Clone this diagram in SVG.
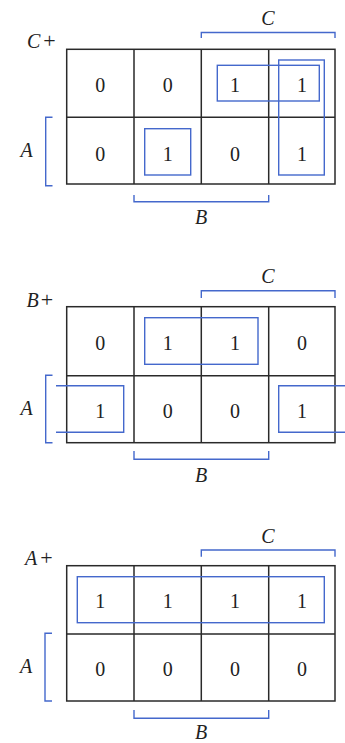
<svg xmlns="http://www.w3.org/2000/svg" width="345" height="743" viewBox="0 0 345 743">
<style>
.g{fill:none;stroke:#2a2a2a;stroke-width:1.5}
.b{fill:none;stroke:#4468cc;stroke-width:1.4}
.d{font-family:"Liberation Serif","Times New Roman",serif;font-size:20px;fill:#222;text-anchor:middle}
.l{font-family:"Liberation Serif","Times New Roman",serif;font-size:20px;fill:#222;font-style:italic}
.c{text-anchor:middle}
.p{font-style:normal;font-size:22px}
</style>
<rect width="345" height="743" fill="#fff"/>

<g id="map-c">
<g class="grid">
<rect class="g" x="66.7" y="49.3" width="268.3" height="134.7"/>
<path class="g" d="M66.7 117.3H335M134 49.3V184M201.3 49.3V184M268.7 49.3V184"/>
</g>
<text class="l" x="27" y="48">C<tspan class="p" dx="3">+</tspan></text>
<text class="d" x="100.3" y="91.5">0</text>
<text class="d" x="167.7" y="91.5">0</text>
<text class="d" x="235" y="91.5">1</text>
<text class="d" x="302" y="91.5">1</text>
<text class="d" x="100.3" y="160.5">0</text>
<text class="d" x="167.7" y="160.5">1</text>
<text class="d" x="235" y="160.5">0</text>
<text class="d" x="302" y="160.5">1</text>
<path class="b" d="M201.3 38V32.5H335V38"/>
<text class="l c" x="268" y="25">C</text>
<path class="b" d="M52.5 117.3H45.7V185.7H52.5"/>
<text class="l" x="20.5" y="157">A</text>
<path class="b" d="M134 195V201.7H268.7V195"/>
<text class="l c" x="201" y="224">B</text>
<rect class="b" x="217.3" y="65.3" width="102" height="35.7"/>
<rect class="b" x="278.7" y="60" width="45.6" height="115"/>
<rect class="b" x="144.7" y="128.7" width="46" height="46.3"/>
</g>

<g id="map-b">
<rect class="g" x="66.7" y="306.7" width="268.3" height="136"/>
<path class="g" d="M66.7 375.7H335M134 306.7V442.7M201.3 306.7V442.7M268.7 306.7V442.7"/>
<text class="l" x="26.5" y="306.5">B<tspan class="p" dx="2">+</tspan></text>
<text class="d" x="100.3" y="350">0</text>
<text class="d" x="167.7" y="350">1</text>
<text class="d" x="235" y="350">1</text>
<text class="d" x="302" y="350">0</text>
<text class="d" x="100.3" y="418">1</text>
<text class="d" x="167.7" y="418">0</text>
<text class="d" x="235" y="418">0</text>
<text class="d" x="302" y="418">1</text>
<path class="b" d="M201.3 298V290.7H335V298"/>
<text class="l c" x="268" y="283">C</text>
<path class="b" d="M52.5 375.3H45.7V442.7H52.5"/>
<text class="l" x="20.5" y="415">A</text>
<path class="b" d="M134 451V459.3H268.7V451"/>
<text class="l c" x="201" y="482">B</text>
<rect class="b" x="144.7" y="317.7" width="113.3" height="46.6"/>
<path class="b" d="M56 385.7H123.7V432.3H56"/>
<path class="b" d="M345 385.7H278.7V432.3H345"/>
</g>

<g id="map-a">
<rect class="g" x="66.7" y="565.7" width="268.3" height="135.3"/>
<path class="g" d="M66.7 634H335M134 565.7V701M201.3 565.7V701M268.7 565.7V701"/>
<text class="l" x="25" y="565">A<tspan class="p" dx="3">+</tspan></text>
<text class="d" x="100.3" y="608">1</text>
<text class="d" x="167.7" y="608">1</text>
<text class="d" x="235" y="608">1</text>
<text class="d" x="302" y="608">1</text>
<text class="d" x="100.3" y="675.5">0</text>
<text class="d" x="167.7" y="675.5">0</text>
<text class="d" x="235" y="675.5">0</text>
<text class="d" x="302" y="675.5">0</text>
<path class="b" d="M201.3 556.7V550H335V556.7"/>
<text class="l c" x="268" y="542.5">C</text>
<path class="b" d="M52 633.3H45V701H52"/>
<text class="l" x="20" y="673">A</text>
<path class="b" d="M134 710V718.3H268.7V710"/>
<text class="l c" x="201" y="738.5">B</text>
<rect class="b" x="77.3" y="576.7" width="247" height="46"/>
</g>
</svg>
